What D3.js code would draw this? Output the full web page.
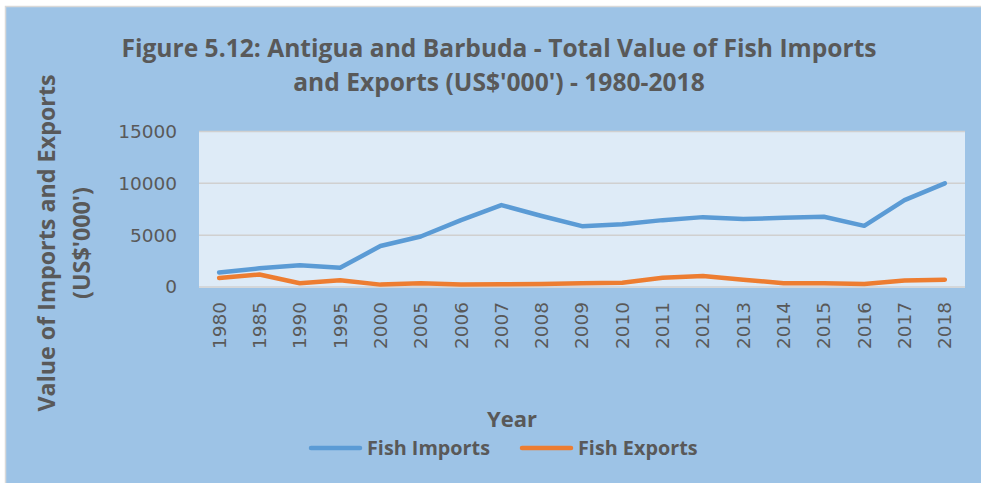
<!DOCTYPE html>
<html><head><meta charset="utf-8">
<script src="https://cdn.jsdelivr.net/npm/d3@7"></script>
<style>body{margin:0;background:#fff;}svg{display:block;}</style>
</head><body>
<svg id="c" width="981" height="483"></svg>
<script>
const years = ["1980","1985","1990","1995","2000","2005","2006","2007","2008","2009","2010","2011","2012","2013","2014","2015","2016","2017","2018"];
const fishImports = [1400,1800,2100,1850,3950,4870,6450,7900,6850,5870,6060,6450,6740,6550,6670,6770,5900,8380,10000];
const fishExports = [870,1200,360,650,230,360,230,260,290,360,420,900,1060,710,360,360,290,620,710];
const yTicks = [0,5000,10000,15000];
const seriesNames = ["Fish Imports","Fish Exports"];
const colors = ["#5B9BD5","#ED7D31"];

const svg = d3.select("#c");
const txt = "#595959";
svg.append("rect").attr("x",5.5).attr("y",6.5).attr("width",980).attr("height",480)
  .attr("fill","#9DC3E6").attr("stroke","#D9D9D9").attr("stroke-width",1.5);

const L=199,R=965,T=131.5,B=287;
const x = d3.scaleBand().domain(years).range([L,R]).padding(0);
const y = d3.scaleLinear().domain([0,15000]).range([B,T]);

svg.append("rect").attr("x",L).attr("y",T).attr("width",R-L).attr("height",B-T+1).attr("fill","#DEEBF7");

svg.append("g").selectAll("line").data(yTicks).join("line")
  .attr("x1",L).attr("x2",R).attr("y1",d=>y(d)).attr("y2",d=>y(d))
  .attr("stroke","#D0D0D0").attr("stroke-width",1.5);

const yAxis = svg.append("g").attr("transform",`translate(${L-22},0)`)
  .call(d3.axisLeft(y).tickValues(yTicks).tickSize(0).tickPadding(0).tickFormat(d3.format("d")));
yAxis.select(".domain").remove();
yAxis.selectAll("text").attr("fill",txt).style("font-family","DejaVu Sans").style("font-size","18.5px");

const xAxis = svg.append("g").attr("transform",`translate(0,${B})`)
  .call(d3.axisBottom(x).tickSize(0).tickPadding(0));
xAxis.select(".domain").remove();
xAxis.selectAll("text").attr("fill",txt).style("font-family","DejaVu Sans").style("font-size","18.5px")
  .attr("transform","rotate(-90)").attr("text-anchor","end").attr("x",-15).attr("y",0).attr("dy","0.35em");

const cx = d => x(d)+x.bandwidth()/2;
[fishImports,fishExports].forEach((vals,i)=>{
  svg.append("path").datum(vals)
    .attr("d",d3.line().x((v,j)=>cx(years[j])).y(v=>y(v)))
    .attr("fill","none").attr("stroke",colors[i]).attr("stroke-width",4.5)
    .attr("stroke-linecap","round").attr("stroke-linejoin","round");
});

const bold = "Open Sans";
svg.append("text").attr("x",499).attr("y",57).attr("text-anchor","middle")
  .attr("fill",txt).style("font-family",bold).style("font-weight","bold").style("font-size","24.6px")
  .text("Figure 5.12: Antigua and Barbuda - Total Value of Fish Imports");
svg.append("text").attr("x",499).attr("y",91).attr("text-anchor","middle")
  .attr("fill",txt).style("font-family",bold).style("font-weight","bold").style("font-size","24.6px")
  .text("and Exports (US$'000') - 1980-2018");

const yt = svg.append("text").attr("transform","translate(0,243) rotate(-90)")
  .attr("text-anchor","middle").attr("fill",txt).style("font-family",bold).style("font-weight","bold").style("font-size","23.3px");
yt.append("tspan").attr("x",0).attr("y",55).text("Value of Imports and Exports");
yt.append("tspan").attr("x",0).attr("y",90).text("(US$'000')");

svg.append("text").attr("x",512).attr("y",427).attr("text-anchor","middle")
  .attr("fill",txt).style("font-family",bold).style("font-weight","bold").style("font-size","22px").text("Year");

const legX = [309,520];
seriesNames.forEach((n,i)=>{
  svg.append("line").attr("x1",legX[i]+2).attr("x2",legX[i]+51).attr("y1",448).attr("y2",448)
    .attr("stroke",colors[i]).attr("stroke-width",4.5).attr("stroke-linecap","round");
  svg.append("text").attr("x",legX[i]+58).attr("y",455).attr("fill",txt)
    .style("font-family",bold).style("font-weight","bold").style("font-size","19.8px").text(n);
});
</script>
</body></html>
